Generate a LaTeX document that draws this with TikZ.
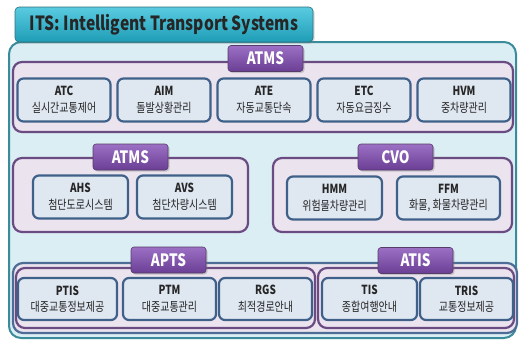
\documentclass[tikz,border=0pt]{standalone}
\usepackage{fontspec}
\setmainfont{Noto Sans CJK KR}
\newfontfamily\krnarrow[FakeStretch=0.80]{Noto Sans CJK KR}
\usetikzlibrary{shadows}

\definecolor{mainfill}{HTML}{DBEEF4}
\definecolor{mainline}{HTML}{3A8C9B}
\definecolor{titletop}{HTML}{5ACBE0}
\definecolor{titlebot}{HTML}{1E9DB6}
\definecolor{grpfill}{HTML}{EBE4EF}
\definecolor{grpline}{HTML}{6B4C82}
\definecolor{bandline}{HTML}{4D6D96}
\definecolor{tabtop}{HTML}{9C70C4}
\definecolor{tabbot}{HTML}{6A3E94}
\definecolor{itemfill}{HTML}{DFE7F1}
\definecolor{itemline}{HTML}{3F6089}

\tikzset{
  itembox/.style={draw=itemline, line width=2.2pt, fill=itemfill, rounded corners=6pt,
    minimum height=43pt, inner sep=0pt, align=center, text=black!85,
    font=\krnarrow\fontsize{12.5}{16.5}\selectfont},
  grpbox/.style={draw=grpline, line width=2.2pt, fill=grpfill, rounded corners=9pt},
  tabbox/.style={draw=grpline!80!black, line width=0.6pt, top color=tabtop, bottom color=tabbot,
    rounded corners=3pt, minimum width=75pt, minimum height=26pt, inner sep=0pt, text=white,
    font=\krnarrow\bfseries\fontsize{17}{17}\selectfont,
    drop shadow={opacity=0.35, shadow xshift=1.5pt, shadow yshift=-1.5pt}},
}

\begin{document}
\begin{tikzpicture}[x=1pt,y=-1pt]
\useasboundingbox (0,0) rectangle (519,343);

% outer frame and title
\draw[fill=mainfill, draw=mainline, line width=2pt, rounded corners=12pt] (9,42) rectangle (516,338);
\node[draw=mainline!80!black, line width=0.6pt, top color=titletop, bottom color=titlebot,
  rounded corners=4pt, minimum width=298pt, minimum height=35pt, inner sep=0pt,
  text=black!85, font=\krnarrow\bfseries\fontsize{19.5}{19.5}\selectfont,
  drop shadow={opacity=0.3, shadow xshift=1.5pt, shadow yshift=-1.5pt}]
  (title) at (164,24.5) {ITS: Intelligent Transport Systems};

% first row
\draw[grpbox] (13,62) rectangle (513,132);
\node[tabbox] (atms1) at (265.5,58.5) {ATMS};
\node[itembox, minimum width=93pt] (atc) at (64,100) {\textbf{ATC}\\실시간교통제어};
\node[itembox, minimum width=93pt] (aim) at (164,100) {\textbf{AIM}\\돌발상황관리};
\node[itembox, minimum width=93pt] (ate) at (264,100) {\textbf{ATE}\\자동교통단속};
\node[itembox, minimum width=93pt] (etc) at (364,100) {\textbf{ETC}\\자동요금징수};
\node[itembox, minimum width=93pt] (hvm) at (464,100) {\textbf{HVM}\\중차량관리};

% second row
\draw[grpbox] (13,158) rectangle (248,232);
\node[tabbox] (atms2) at (130.5,157) {ATMS};
\node[itembox, minimum width=95pt] (ahs) at (80.5,197) {\textbf{AHS}\\첨단도로시스템};
\node[itembox, minimum width=95pt] (avs) at (184.5,197) {\textbf{AVS}\\첨단차량시스템};

\draw[grpbox] (273,158) rectangle (512,232);
\node[tabbox] (cvo) at (395.5,157) {CVO};
\node[itembox, minimum width=95pt] (hmm) at (334.5,198) {\textbf{HMM}\\위험물차량관리};
\node[itembox, minimum width=103pt] (ffm) at (448.5,198) {\textbf{FFM}\\화물, 화물차량관리};

% third row
\draw[draw=bandline, line width=2.2pt, fill=grpfill, rounded corners=10pt] (13,263) rectangle (517,333);
\draw[grpbox] (16,268) rectangle (315,328);
\draw[grpbox] (318,268) rectangle (514,328);
\node[tabbox] (apts) at (168.5,260) {APTS};
\node[tabbox] (atis) at (415.5,260.5) {ATIS};
\node[itembox, minimum width=99pt, minimum height=42pt] (ptis) at (67.5,299) {\textbf{PTIS}\\대중교통정보제공};
\node[itembox, minimum width=93pt, minimum height=42pt] (ptm) at (169.5,299) {\textbf{PTM}\\대중교통관리};
\node[itembox, minimum width=93pt, minimum height=42pt] (rgs) at (265.5,299) {\textbf{RGS}\\최적경로안내};
\node[itembox, minimum width=95pt, minimum height=42pt] (tis) at (369.5,299) {\textbf{TIS}\\종합여행안내};
\node[itembox, minimum width=93pt, minimum height=42pt] (tris) at (466.5,299) {\textbf{TRIS}\\교통정보제공};
\end{tikzpicture}
\end{document}
